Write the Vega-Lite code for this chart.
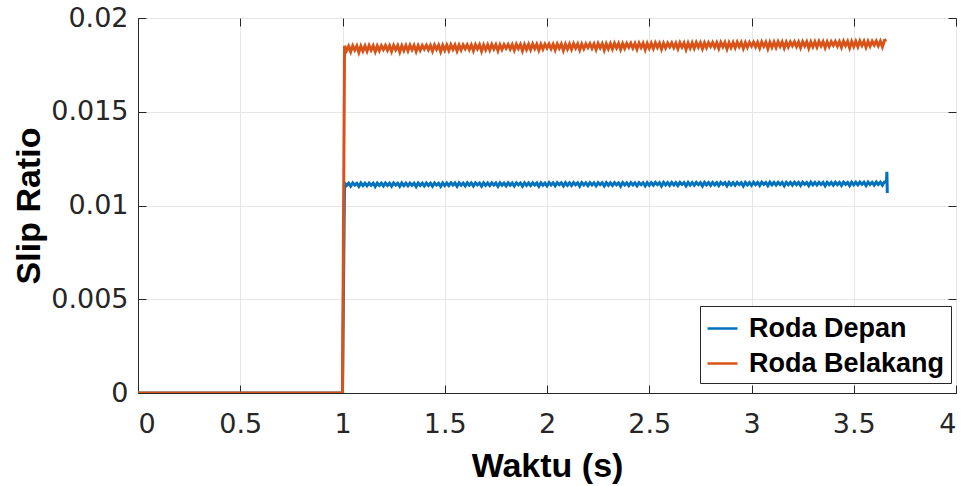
{
"$schema": "https://vega.github.io/schema/vega-lite/v6.json",
"width": 818, "height": 375,
"autosize": {"type": "none"},
"padding": {"left": 138, "top": 18, "right": 12, "bottom": 93},
"background": "white",
"config": {
  "font": "Liberation Sans",
  "view": {"stroke": "#262626", "strokeWidth": 1},
  "axis": {"labelFontSize": 27, "labelColor": "#262626", "labelFont": "DejaVu Sans", "titleFontSize": 34, "titleFontWeight": "bold", "titleColor": "#000000", "titleFont": "Liberation Sans", "tickColor": "#262626", "tickSize": -8, "gridColor": "#e6e6e6", "domainColor": "#262626"}
},
"data": {"values": [
{"t":0,"f":0,"r":0},{"t":1.0,"f":0,"r":0},
{"t":1.01,"f":0.01120,"r":0.01851},{"t":1.02,"f":0.01107,"r":0.01826},{"t":1.03,"f":0.01119,"r":0.01850},{"t":1.04,"f":0.01103,"r":0.01820},{"t":1.05,"f":0.01120,"r":0.01852},{"t":1.06,"f":0.01109,"r":0.01829},{"t":1.07,"f":0.01119,"r":0.01851},{"t":1.08,"f":0.01102,"r":0.01817},{"t":1.09,"f":0.01120,"r":0.01850},{"t":1.10,"f":0.01106,"r":0.01824},
{"t":1.11,"f":0.01119,"r":0.01851},{"t":1.12,"f":0.01105,"r":0.01823},{"t":1.13,"f":0.01120,"r":0.01853},{"t":1.14,"f":0.01108,"r":0.01829},{"t":1.15,"f":0.01119,"r":0.01852},{"t":1.16,"f":0.01101,"r":0.01820},{"t":1.17,"f":0.01120,"r":0.01851},{"t":1.18,"f":0.01107,"r":0.01826},{"t":1.19,"f":0.01119,"r":0.01852},{"t":1.20,"f":0.01104,"r":0.01832},
{"t":1.21,"f":0.01120,"r":0.01853},{"t":1.22,"f":0.01107,"r":0.01828},{"t":1.23,"f":0.01119,"r":0.01852},{"t":1.24,"f":0.01103,"r":0.01822},{"t":1.25,"f":0.01120,"r":0.01854},{"t":1.26,"f":0.01109,"r":0.01831},{"t":1.27,"f":0.01119,"r":0.01853},{"t":1.28,"f":0.01102,"r":0.01819},{"t":1.29,"f":0.01120,"r":0.01852},{"t":1.30,"f":0.01106,"r":0.01826},
{"t":1.31,"f":0.01119,"r":0.01853},{"t":1.32,"f":0.01105,"r":0.01825},{"t":1.33,"f":0.01120,"r":0.01855},{"t":1.34,"f":0.01108,"r":0.01831},{"t":1.35,"f":0.01119,"r":0.01854},{"t":1.36,"f":0.01101,"r":0.01822},{"t":1.37,"f":0.01120,"r":0.01853},{"t":1.38,"f":0.01107,"r":0.01828},{"t":1.39,"f":0.01119,"r":0.01854},{"t":1.40,"f":0.01104,"r":0.01834},
{"t":1.41,"f":0.01120,"r":0.01855},{"t":1.42,"f":0.01107,"r":0.01830},{"t":1.43,"f":0.01119,"r":0.01854},{"t":1.44,"f":0.01103,"r":0.01824},{"t":1.45,"f":0.01120,"r":0.01856},{"t":1.46,"f":0.01109,"r":0.01833},{"t":1.47,"f":0.01119,"r":0.01855},{"t":1.48,"f":0.01102,"r":0.01821},{"t":1.49,"f":0.01120,"r":0.01854},{"t":1.50,"f":0.01106,"r":0.01828},
{"t":1.51,"f":0.01120,"r":0.01855},{"t":1.52,"f":0.01106,"r":0.01827},{"t":1.53,"f":0.01121,"r":0.01857},{"t":1.54,"f":0.01109,"r":0.01833},{"t":1.55,"f":0.01120,"r":0.01856},{"t":1.56,"f":0.01102,"r":0.01824},{"t":1.57,"f":0.01121,"r":0.01855},{"t":1.58,"f":0.01108,"r":0.01830},{"t":1.59,"f":0.01120,"r":0.01856},{"t":1.60,"f":0.01105,"r":0.01836},
{"t":1.61,"f":0.01121,"r":0.01857},{"t":1.62,"f":0.01108,"r":0.01832},{"t":1.63,"f":0.01120,"r":0.01856},{"t":1.64,"f":0.01104,"r":0.01826},{"t":1.65,"f":0.01121,"r":0.01858},{"t":1.66,"f":0.01110,"r":0.01835},{"t":1.67,"f":0.01120,"r":0.01857},{"t":1.68,"f":0.01103,"r":0.01823},{"t":1.69,"f":0.01121,"r":0.01856},{"t":1.70,"f":0.01107,"r":0.01830},
{"t":1.71,"f":0.01120,"r":0.01857},{"t":1.72,"f":0.01106,"r":0.01829},{"t":1.73,"f":0.01121,"r":0.01859},{"t":1.74,"f":0.01109,"r":0.01835},{"t":1.75,"f":0.01120,"r":0.01858},{"t":1.76,"f":0.01102,"r":0.01826},{"t":1.77,"f":0.01121,"r":0.01857},{"t":1.78,"f":0.01108,"r":0.01832},{"t":1.79,"f":0.01120,"r":0.01858},{"t":1.80,"f":0.01105,"r":0.01838},
{"t":1.81,"f":0.01121,"r":0.01859},{"t":1.82,"f":0.01108,"r":0.01834},{"t":1.83,"f":0.01120,"r":0.01858},{"t":1.84,"f":0.01104,"r":0.01828},{"t":1.85,"f":0.01121,"r":0.01860},{"t":1.86,"f":0.01110,"r":0.01837},{"t":1.87,"f":0.01120,"r":0.01859},{"t":1.88,"f":0.01103,"r":0.01825},{"t":1.89,"f":0.01121,"r":0.01858},{"t":1.90,"f":0.01107,"r":0.01832},
{"t":1.91,"f":0.01120,"r":0.01859},{"t":1.92,"f":0.01106,"r":0.01831},{"t":1.93,"f":0.01121,"r":0.01861},{"t":1.94,"f":0.01109,"r":0.01837},{"t":1.95,"f":0.01120,"r":0.01860},{"t":1.96,"f":0.01102,"r":0.01828},{"t":1.97,"f":0.01121,"r":0.01859},{"t":1.98,"f":0.01108,"r":0.01834},{"t":1.99,"f":0.01120,"r":0.01860},{"t":2.00,"f":0.01105,"r":0.01840},
{"t":2.01,"f":0.01122,"r":0.01861},{"t":2.02,"f":0.01109,"r":0.01836},{"t":2.03,"f":0.01121,"r":0.01860},{"t":2.04,"f":0.01105,"r":0.01830},{"t":2.05,"f":0.01122,"r":0.01862},{"t":2.06,"f":0.01111,"r":0.01839},{"t":2.07,"f":0.01121,"r":0.01861},{"t":2.08,"f":0.01104,"r":0.01827},{"t":2.09,"f":0.01122,"r":0.01860},{"t":2.10,"f":0.01108,"r":0.01834},
{"t":2.11,"f":0.01121,"r":0.01861},{"t":2.12,"f":0.01107,"r":0.01833},{"t":2.13,"f":0.01122,"r":0.01863},{"t":2.14,"f":0.01110,"r":0.01839},{"t":2.15,"f":0.01121,"r":0.01862},{"t":2.16,"f":0.01103,"r":0.01830},{"t":2.17,"f":0.01122,"r":0.01861},{"t":2.18,"f":0.01109,"r":0.01836},{"t":2.19,"f":0.01121,"r":0.01862},{"t":2.20,"f":0.01106,"r":0.01842},
{"t":2.21,"f":0.01122,"r":0.01863},{"t":2.22,"f":0.01109,"r":0.01838},{"t":2.23,"f":0.01121,"r":0.01862},{"t":2.24,"f":0.01105,"r":0.01832},{"t":2.25,"f":0.01122,"r":0.01864},{"t":2.26,"f":0.01111,"r":0.01841},{"t":2.27,"f":0.01121,"r":0.01863},{"t":2.28,"f":0.01104,"r":0.01829},{"t":2.29,"f":0.01122,"r":0.01862},{"t":2.30,"f":0.01108,"r":0.01836},
{"t":2.31,"f":0.01121,"r":0.01863},{"t":2.32,"f":0.01107,"r":0.01835},{"t":2.33,"f":0.01122,"r":0.01865},{"t":2.34,"f":0.01110,"r":0.01841},{"t":2.35,"f":0.01121,"r":0.01864},{"t":2.36,"f":0.01103,"r":0.01832},{"t":2.37,"f":0.01122,"r":0.01863},{"t":2.38,"f":0.01109,"r":0.01838},{"t":2.39,"f":0.01121,"r":0.01864},{"t":2.40,"f":0.01106,"r":0.01844},
{"t":2.41,"f":0.01122,"r":0.01865},{"t":2.42,"f":0.01109,"r":0.01840},{"t":2.43,"f":0.01121,"r":0.01864},{"t":2.44,"f":0.01105,"r":0.01834},{"t":2.45,"f":0.01122,"r":0.01866},{"t":2.46,"f":0.01111,"r":0.01843},{"t":2.47,"f":0.01121,"r":0.01865},{"t":2.48,"f":0.01104,"r":0.01831},{"t":2.49,"f":0.01122,"r":0.01864},{"t":2.50,"f":0.01108,"r":0.01838},
{"t":2.51,"f":0.01122,"r":0.01865},{"t":2.52,"f":0.01108,"r":0.01837},{"t":2.53,"f":0.01123,"r":0.01867},{"t":2.54,"f":0.01111,"r":0.01843},{"t":2.55,"f":0.01122,"r":0.01866},{"t":2.56,"f":0.01104,"r":0.01834},{"t":2.57,"f":0.01123,"r":0.01865},{"t":2.58,"f":0.01110,"r":0.01840},{"t":2.59,"f":0.01122,"r":0.01866},{"t":2.60,"f":0.01107,"r":0.01846},
{"t":2.61,"f":0.01123,"r":0.01867},{"t":2.62,"f":0.01110,"r":0.01842},{"t":2.63,"f":0.01122,"r":0.01866},{"t":2.64,"f":0.01106,"r":0.01836},{"t":2.65,"f":0.01123,"r":0.01868},{"t":2.66,"f":0.01112,"r":0.01845},{"t":2.67,"f":0.01122,"r":0.01867},{"t":2.68,"f":0.01105,"r":0.01833},{"t":2.69,"f":0.01123,"r":0.01866},{"t":2.70,"f":0.01109,"r":0.01840},
{"t":2.71,"f":0.01122,"r":0.01867},{"t":2.72,"f":0.01108,"r":0.01839},{"t":2.73,"f":0.01123,"r":0.01869},{"t":2.74,"f":0.01111,"r":0.01845},{"t":2.75,"f":0.01122,"r":0.01868},{"t":2.76,"f":0.01104,"r":0.01836},{"t":2.77,"f":0.01123,"r":0.01867},{"t":2.78,"f":0.01110,"r":0.01842},{"t":2.79,"f":0.01122,"r":0.01868},{"t":2.80,"f":0.01107,"r":0.01848},
{"t":2.81,"f":0.01123,"r":0.01869},{"t":2.82,"f":0.01110,"r":0.01844},{"t":2.83,"f":0.01122,"r":0.01868},{"t":2.84,"f":0.01106,"r":0.01838},{"t":2.85,"f":0.01123,"r":0.01870},{"t":2.86,"f":0.01112,"r":0.01847},{"t":2.87,"f":0.01122,"r":0.01869},{"t":2.88,"f":0.01105,"r":0.01835},{"t":2.89,"f":0.01123,"r":0.01868},{"t":2.90,"f":0.01109,"r":0.01842},
{"t":2.91,"f":0.01122,"r":0.01869},{"t":2.92,"f":0.01108,"r":0.01841},{"t":2.93,"f":0.01123,"r":0.01871},{"t":2.94,"f":0.01111,"r":0.01847},{"t":2.95,"f":0.01122,"r":0.01870},{"t":2.96,"f":0.01104,"r":0.01838},{"t":2.97,"f":0.01123,"r":0.01869},{"t":2.98,"f":0.01110,"r":0.01844},{"t":2.99,"f":0.01122,"r":0.01870},{"t":3.00,"f":0.01107,"r":0.01850},
{"t":3.01,"f":0.01124,"r":0.01871},{"t":3.02,"f":0.01111,"r":0.01846},{"t":3.03,"f":0.01123,"r":0.01870},{"t":3.04,"f":0.01107,"r":0.01840},{"t":3.05,"f":0.01124,"r":0.01872},{"t":3.06,"f":0.01113,"r":0.01849},{"t":3.07,"f":0.01123,"r":0.01871},{"t":3.08,"f":0.01106,"r":0.01837},{"t":3.09,"f":0.01124,"r":0.01870},{"t":3.10,"f":0.01110,"r":0.01844},
{"t":3.11,"f":0.01123,"r":0.01871},{"t":3.12,"f":0.01109,"r":0.01843},{"t":3.13,"f":0.01124,"r":0.01873},{"t":3.14,"f":0.01112,"r":0.01849},{"t":3.15,"f":0.01123,"r":0.01872},{"t":3.16,"f":0.01105,"r":0.01840},{"t":3.17,"f":0.01124,"r":0.01871},{"t":3.18,"f":0.01111,"r":0.01846},{"t":3.19,"f":0.01123,"r":0.01872},{"t":3.20,"f":0.01108,"r":0.01852},
{"t":3.21,"f":0.01124,"r":0.01873},{"t":3.22,"f":0.01111,"r":0.01848},{"t":3.23,"f":0.01123,"r":0.01872},{"t":3.24,"f":0.01107,"r":0.01842},{"t":3.25,"f":0.01124,"r":0.01874},{"t":3.26,"f":0.01113,"r":0.01851},{"t":3.27,"f":0.01123,"r":0.01873},{"t":3.28,"f":0.01106,"r":0.01839},{"t":3.29,"f":0.01124,"r":0.01872},{"t":3.30,"f":0.01110,"r":0.01846},
{"t":3.31,"f":0.01123,"r":0.01873},{"t":3.32,"f":0.01109,"r":0.01845},{"t":3.33,"f":0.01124,"r":0.01875},{"t":3.34,"f":0.01112,"r":0.01851},{"t":3.35,"f":0.01123,"r":0.01874},{"t":3.36,"f":0.01105,"r":0.01842},{"t":3.37,"f":0.01124,"r":0.01873},{"t":3.38,"f":0.01111,"r":0.01848},{"t":3.39,"f":0.01123,"r":0.01874},{"t":3.40,"f":0.01108,"r":0.01854},
{"t":3.41,"f":0.01124,"r":0.01875},{"t":3.42,"f":0.01111,"r":0.01850},{"t":3.43,"f":0.01123,"r":0.01874},{"t":3.44,"f":0.01107,"r":0.01844},{"t":3.45,"f":0.01124,"r":0.01876},{"t":3.46,"f":0.01113,"r":0.01853},{"t":3.47,"f":0.01123,"r":0.01875},{"t":3.48,"f":0.01106,"r":0.01841},{"t":3.49,"f":0.01124,"r":0.01874},{"t":3.50,"f":0.01110,"r":0.01848},
{"t":3.51,"f":0.01124,"r":0.01875},{"t":3.52,"f":0.01110,"r":0.01847},{"t":3.53,"f":0.01125,"r":0.01877},{"t":3.54,"f":0.01113,"r":0.01853},{"t":3.55,"f":0.01124,"r":0.01876},{"t":3.56,"f":0.01106,"r":0.01844},{"t":3.57,"f":0.01125,"r":0.01875},{"t":3.58,"f":0.01112,"r":0.01850},{"t":3.59,"f":0.01124,"r":0.01876},{"t":3.60,"f":0.01109,"r":0.01856},
{"t":3.61,"f":0.01125,"r":0.01877},{"t":3.62,"f":0.01112,"r":0.01852},{"t":3.63,"f":0.01124,"r":0.01876},{"t":3.64,"f":0.01108,"r":0.01846},{"t":3.65,"f":0.01125,"r":0.01880},{"t":3.66,"f":0.01125,"r":0.01884},
{"t":3.662,"f":0.01180},{"t":3.664,"f":0.01067}
]},
"resolve": {"axis": {"x": "independent", "y": "independent"}},
"layer": [
  {
    "mark": {"type": "line", "strokeWidth": 3, "clip": true},
    "encoding": {
      "x": {"field": "t", "type": "quantitative", "scale": {"domain": [0, 4], "nice": false}, "axis": {"title": "Waktu (s)", "values": [0, 0.5, 1, 1.5, 2, 2.5, 3, 3.5, 4], "format": "~g", "grid": true, "labelPadding": 26, "titlePadding": 12}},
      "y": {"field": "f", "type": "quantitative", "scale": {"domain": [0, 0.02], "nice": false}, "axis": {"title": "Slip Ratio", "values": [0, 0.005, 0.01, 0.015, 0.02], "format": "~g", "grid": true, "labelPadding": 18, "titlePadding": 4}},
      "color": {"datum": "Roda Depan", "type": "nominal", "scale": {"domain": ["Roda Depan", "Roda Belakang"], "range": ["#0072BD", "#D95319"]},
        "legend": {"title": null, "orient": "none", "legendX": 562, "legendY": 288, "fillColor": "white", "strokeColor": "#262626", "padding": 6, "symbolType": "stroke", "symbolSize": 900, "symbolStrokeWidth": 2.5, "labelFontSize": 27, "labelFontWeight": "bold", "labelColor": "#000000", "labelFont": "Liberation Sans", "labelOffset": 10, "labelLimit": 400, "rowPadding": 5}}
    }
  },
  {
    "mark": {"type": "line", "strokeWidth": 3, "clip": true},
    "encoding": {
      "x": {"field": "t", "type": "quantitative", "axis": null},
      "y": {"field": "r", "type": "quantitative", "axis": null},
      "color": {"datum": "Roda Belakang", "type": "nominal"}
    }
  },
  {
    "mark": {"type": "line", "opacity": 0},
    "encoding": {
      "x": {"field": "t", "type": "quantitative", "axis": {"orient": "top", "title": null, "labels": false, "grid": false, "domain": false, "values": [0, 0.5, 1, 1.5, 2, 2.5, 3, 3.5, 4]}},
      "y": {"field": "f", "type": "quantitative", "axis": {"orient": "right", "title": null, "labels": false, "grid": false, "domain": false, "values": [0, 0.005, 0.01, 0.015, 0.02]}}
    }
  }
]
}
